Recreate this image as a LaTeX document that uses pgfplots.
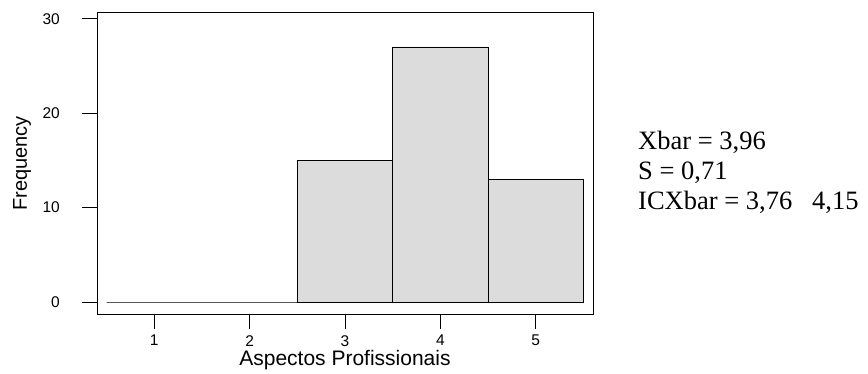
\documentclass[border=0pt]{standalone}
\usepackage{fontspec}
\setmainfont{Liberation Sans}
\newfontfamily\serifann{Liberation Serif}
\usepackage{pgfplots}
\pgfplotsset{compat=1.18}
\begin{document}
\begin{tikzpicture}
\path[use as bounding box] (0,0) rectangle (868bp,374bp);
\begin{axis}[
  at={(97bp,60bp)}, anchor=south west,
  scale only axis, width=496bp, height=301bp,
  xmin=0.4, xmax=5.6, ymin=-1.27, ymax=30.6,
  xtick={1,2,3,4,5}, ytick={0,10,20,30},
  tick align=outside, xtick pos=bottom, ytick pos=left,
  major tick length=15bp,
  axis line style={line width=1pt},
  tick style={line width=1pt, black},
  /pgf/number format/assume math mode=true,
  tick label style={font=\fontsize{15.5bp}{18bp}\selectfont, inner sep=1bp},
  yticklabel style={xshift=-21bp},
  xticklabel style={yshift=-5bp},
  label style={font=\fontsize{21bp}{24bp}\selectfont, inner sep=1bp},
  xlabel={Aspectos Profissionais},
  ylabel={Frequency},
  xlabel style={at={(axis description cs:0.5,0)}, anchor=base, yshift=-51bp},
  ylabel style={at={(axis description cs:0,0.5)}, anchor=base, yshift=70bp, font=\fontsize{20bp}{24bp}\selectfont},
  clip=false,
]
\addplot[ybar interval, fill={rgb,255:red,220;green,220;blue,220}, draw=black, line width=1pt]
  coordinates {(0.5,0) (1.5,0) (2.5,15) (3.5,27) (4.5,13) (5.5,13)};
\end{axis}
\node[anchor=base west, inner sep=0pt, font=\serifann\fontsize{26.5bp}{30bp}\selectfont] at (638bp,224bp) {Xbar = 3,96};
\node[anchor=base west, inner sep=0pt, font=\serifann\fontsize{26.5bp}{30bp}\selectfont] at (638bp,194bp) {S = 0,71};
\node[anchor=base west, inner sep=0pt, font=\serifann\fontsize{26.5bp}{30bp}\selectfont] at (638bp,164bp) {ICXbar = 3,76\hspace{20bp}4,15};
\end{tikzpicture}
\end{document}
